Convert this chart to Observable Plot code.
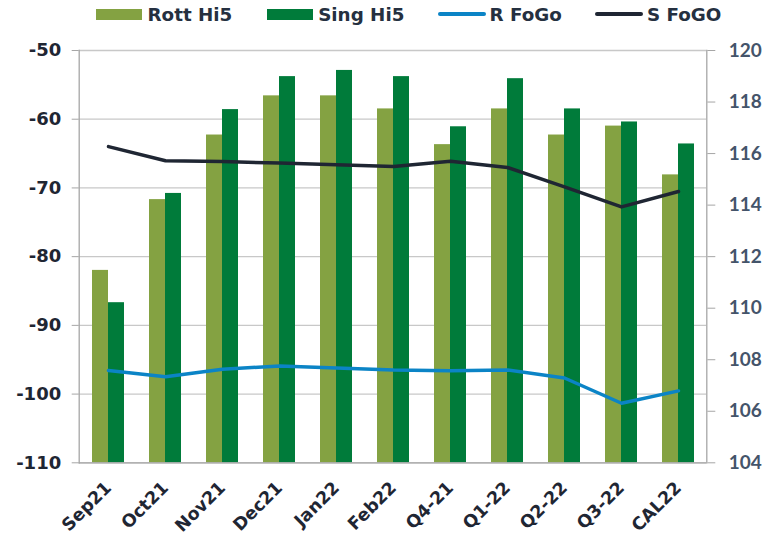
<!DOCTYPE html>
<html>
<head>
<meta charset="utf-8">
<script src="https://cdn.jsdelivr.net/npm/d3@7"></script>
<script src="https://cdn.jsdelivr.net/npm/@observablehq/plot@0.6"></script>
<style>
  html, body { margin: 0; padding: 0; background: #fff; }
  body { width: 769px; height: 536px; overflow: hidden; font-family: "DejaVu Sans", Verdana, sans-serif; }
  #legend { height: 30px; position: relative; font-weight: bold; font-size: 18.3px; color: #253040; }
  .item { position: absolute; top: 0; height: 28px; display: flex; align-items: center; white-space: nowrap; }
  .sw { width: 46px; height: 11px; margin-right: 5.5px; }
  .ln { width: 48px; height: 3.5px; margin-right: 4px; border-radius: 2px; }
  #chart svg { display: block; }
</style>
</head>
<body>
<div id="legend"></div>
<div id="chart"></div>
<script>
const categories = ["Sep21","Oct21","Nov21","Dec21","Jan22","Feb22","Q4-21","Q1-22","Q2-22","Q3-22","CAL22"];
const rottHi5 = [-82.0, -71.7, -62.3, -56.6, -56.6, -58.5, -63.7, -58.5, -62.3, -61.0, -68.1];
const singHi5 = [-86.7, -70.8, -58.6, -53.8, -52.9, -53.8, -61.1, -54.1, -58.5, -60.4, -63.6];
const rFoGo   = [107.58, 107.34, 107.63, 107.76, 107.68, 107.6, 107.57, 107.6, 107.29, 106.31, 106.79];
const sFoGO   = [116.27, 115.72, 115.69, 115.63, 115.57, 115.5, 115.7, 115.46, 114.71, 113.93, 114.53];
const leftTicks = [-110, -100, -90, -80, -70, -60, -50];
const rightTicks = [104, 106, 108, 110, 112, 114, 116, 118, 120];

const colors = { rott: "#84a242", sing: "#007b3a", r: "#0b84c6", s: "#1f2633" };
const labels = { rott: "Rott Hi5", sing: "Sing Hi5", r: "R FoGo", s: "S FoGO" };
const legendLayout = [["rott", "sw", 96], ["sing", "sw", 266.7], ["r", "ln", 437.5], ["s", "ln", 595]];

// legend
const legend = document.getElementById("legend");
legendLayout.forEach(([k, cls, left]) => {
  const it = document.createElement("div"); it.className = "item"; it.style.left = left + "px";
  const sw = document.createElement("div"); sw.className = cls; sw.style.background = colors[k];
  const tx = document.createElement("span"); tx.textContent = labels[k];
  it.appendChild(sw); it.appendChild(tx); legend.appendChild(it);
});

const leftDomain = [leftTicks[0], leftTicks[leftTicks.length - 1]];
const rightDomain = [rightTicks[0], rightTicks[rightTicks.length - 1]];
const toLeft = d3.scaleLinear().domain(rightDomain).range(leftDomain);

const data = categories.map((c, i) => ({ cat: c, rott: rottHi5[i], sing: singHi5[i], r: rFoGo[i], s: sFoGO[i] }));

const font = "DejaVu Sans, Verdana, sans-serif";
const chart = Plot.plot({
  width: 769,
  height: 506,
  marginTop: 20,
  marginBottom: 73.7,
  marginLeft: 78.7,
  marginRight: 62.7,
  style: { fontFamily: font, background: "#fff", overflow: "visible" },
  x: { domain: categories, paddingInner: 0.72, paddingOuter: 0.36, label: null },
  y: { domain: leftDomain, label: null },
  marks: [
    Plot.gridY(leftTicks, { stroke: "#c8c8c8", strokeOpacity: 1, strokeWidth: 1.3 }),
    Plot.barY(data, { x: "cat", y1: leftDomain[0], y2: "rott", fill: colors.rott, dx: -8 }),
    Plot.barY(data, { x: "cat", y1: leftDomain[0], y2: "sing", fill: colors.sing, dx: 8 }),
    Plot.line(data, { x: "cat", y: d => toLeft(d.r), stroke: colors.r, strokeWidth: 3.5, strokeLinejoin: "round" }),
    Plot.line(data, { x: "cat", y: d => toLeft(d.s), stroke: colors.s, strokeWidth: 3.5, strokeLinejoin: "round" }),
    Plot.ruleY([leftDomain[0]], { stroke: "#a6a6a6", strokeWidth: 1.3 }),
    Plot.frame({ anchor: "left", stroke: "#a6a6a6", strokeWidth: 1.3 }),
    Plot.frame({ anchor: "right", stroke: "#a6a6a6", strokeWidth: 1.3 }),
    Plot.axisY(leftTicks, { anchor: "left", label: null, tickSize: 7, tickPadding: 11, stroke: "#a6a6a6", fill: "#1f2633", fontSize: 18, fontWeight: "bold", fontFamily: font, tickFormat: d => String(d) }),
    Plot.axisY(rightTicks.map(v => toLeft(v)), { anchor: "right", label: null, tickSize: 8, tickPadding: 14, stroke: "#a6a6a6", fill: "#44546a", fontSize: 19, fontWeight: "bold", fontFamily: "Lato", tickFormat: v => String(Math.round(toLeft.invert(v))) }),
    Plot.axisX({ anchor: "bottom", label: null, tickSize: 0, tickPadding: 22, tickRotate: -45, fill: "#1f2633", fontSize: 17.5, fontWeight: "bold", fontFamily: font })
  ]
});
document.getElementById("chart").appendChild(chart);
// enforce font styles on tick label groups
const yLabelGroups = chart.querySelectorAll('g[aria-label="y-axis tick label"]');
yLabelGroups.forEach((g, i) => {
  g.setAttribute("font-weight", "bold");
  g.style.fontWeight = "bold";
  if (i === 1) { g.style.fontFamily = "Lato, sans-serif"; g.style.fontSize = "19px"; }
});
const xg = chart.querySelector('g[aria-label="x-axis tick label"]');
if (xg) { xg.style.fontWeight = "bold"; }
</script>
</body>
</html>
